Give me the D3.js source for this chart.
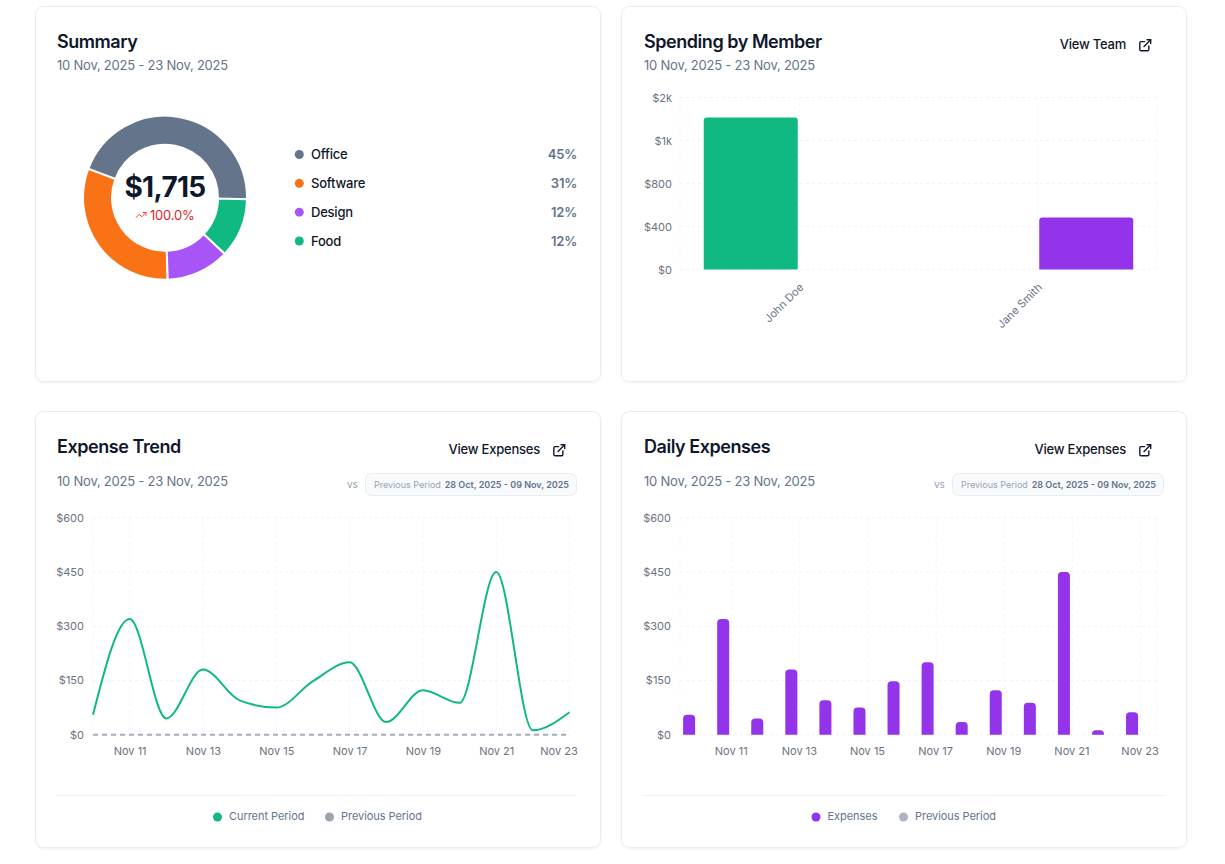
<!DOCTYPE html>
<html>
<head>
<meta charset="utf-8">
<script src="https://cdn.jsdelivr.net/npm/d3@7"></script>
<style>
  body { margin: 0; background: #fff; font-family: Inter, sans-serif; }
  svg { display: block; }
  text { font-family: Inter, sans-serif; }
  text[font-size="13"] { letter-spacing: -0.22px; }
</style>
</head>
<body>
<div id="page"></div>
<script>
const dateRange = "10 Nov, 2025 - 23 Nov, 2025";
const prevRange = "28 Oct, 2025 - 09 Nov, 2025";

// summary donut
const categories = ["Office", "Software", "Design", "Food"];
const categoryValues = [764, 536, 214, 201];
const categoryPercents = ["45%", "31%", "12%", "12%"];
const categoryColors = ["#64748b", "#f97316", "#a855f7", "#10b981"];
const summaryTotal = "$1,715";
const summaryChange = "100.0%";

// spending by member
const members = ["John Doe", "Jane Smith"];
const memberSpend = [1415, 484];
const memberColors = ["#10b981", "#9333ea"];
const memberTicks = [0, 400, 800, 1200, 1600];

// daily series
const days = ["Nov 10", "Nov 11", "Nov 12", "Nov 13", "Nov 14", "Nov 15", "Nov 16",
              "Nov 17", "Nov 18", "Nov 19", "Nov 20", "Nov 21", "Nov 22", "Nov 23"];
const dayTicks = ["Nov 11", "Nov 13", "Nov 15", "Nov 17", "Nov 19", "Nov 21", "Nov 23"];
const currentPeriod = [55, 320, 45, 180, 95, 75, 148, 200, 35, 123, 88, 450, 12, 62];
const previousPeriod = [0, 0, 0, 0, 0, 0, 0, 0, 0, 0, 0, 0, 0, 0];
const dailyTicks = [0, 150, 300, 450, 600];

const dark = "#0f172a", muted = "#64748b", axisGray = "#6b7280", gridColor = "#f1f5f9";

const externalIcon = ["M15 3h6v6", "M10 14 21 3", "M18 13v6a2 2 0 0 1-2 2H5a2 2 0 0 1-2-2V8a2 2 0 0 1 2-2h6"];
const trendIcon = ["M22 7 13.5 15.5 8.5 10.5 2 17", "M16 7h6v6"];

const svg = d3.select("#page").append("svg")
    .attr("width", 1225)
    .attr("height", 864)
    .attr("viewBox", "0 0 1225 864");

const defs = svg.append("defs");
const shadow = defs.append("filter").attr("id", "cardShadow")
    .attr("x", "-5%").attr("y", "-5%").attr("width", "110%").attr("height", "110%");
shadow.append("feDropShadow").attr("dx", 0).attr("dy", 1).attr("stdDeviation", 1.2)
    .attr("flood-color", "#0f172a").attr("flood-opacity", 0.06);

function addText(parent, x, y, str, size, weight, color, anchor) {
    return parent.append("text")
        .attr("x", x).attr("y", y)
        .attr("font-size", size)
        .attr("font-weight", weight)
        .attr("fill", color)
        .attr("text-anchor", anchor || "start")
        .text(str);
}

function addIcon(parent, paths, x, y, size, color, width) {
    let g = parent.append("g")
        .attr("transform", `translate(${x},${y}) scale(${size / 24})`)
        .attr("fill", "none")
        .attr("stroke", color)
        .attr("stroke-width", width)
        .attr("stroke-linecap", "round")
        .attr("stroke-linejoin", "round");
    paths.forEach(p => g.append("path").attr("d", p));
}

function card(x, y, w, h, title) {
    svg.append("rect")
        .attr("x", x - 0.5).attr("y", y - 0.5)
        .attr("width", w + 1).attr("height", h + 1)
        .attr("rx", 8)
        .attr("fill", "#fff")
        .attr("stroke", "#e8edf3")
        .attr("filter", "url(#cardShadow)");
    addText(svg, x + 21 + (x > 600 ? 1 : 0), y + 41, title, 18, 600, dark)
        .attr("letter-spacing", "-0.45px");
}

function cardLink(right, y, label) {
    addText(svg, right - 60, y + 5, label, 13, 500, dark, "end");
    addIcon(svg, externalIcon, right - 48, y - 6, 14.5, dark, 2.3);
}

function comparePill(x, y) {
    addText(svg, x - 18, y + 15, "vs", 10, 400, "#94a3b8");
    svg.append("rect")
        .attr("x", x + 0.5).attr("y", y + 0.5)
        .attr("width", 211).attr("height", 22)
        .attr("rx", 6)
        .attr("fill", "#f8fafc")
        .attr("stroke", "#e8edf3");
    addText(svg, x + 9, y + 15, "Previous Period", 9, 400, "#94a3b8");
    addText(svg, x + 204, y + 15, prevRange, 9, 600, muted, "end");
}

function legendRow(items, y) {
    items.forEach(d => {
        svg.append("circle").attr("cx", d.x).attr("cy", y).attr("r", 4.5).attr("fill", d.color);
        addText(svg, d.x + 11.5, y + 3, d.label, 11, 400, muted).attr("letter-spacing", "-0.05px");
    });
}

function grid(g, xs, ys, x0, x1, y0, y1) {
    g.selectAll(".gh").data(ys).join("line")
        .attr("class", "gh")
        .attr("x1", x0).attr("x2", x1)
        .attr("y1", d => d).attr("y2", d => d);
    g.selectAll(".gv").data(xs).join("line")
        .attr("class", "gv")
        .attr("y1", y0).attr("y2", y1)
        .attr("x1", d => d).attr("x2", d => d);
    g.selectAll("line")
        .attr("stroke", gridColor)
        .attr("stroke-dasharray", "3 3");
}

function styleAxis(axis, size) {
    axis.select(".domain").remove();
    axis.selectAll("text")
        .attr("fill", axisGray)
        .attr("font-size", size || 11);
}

function topRoundedBar(x, y, w, h, r) {
    if (h <= 0) return "";
    let rr = Math.min(r, h);
    return `M${x},${y + h}V${y + rr}Q${x},${y} ${x + rr},${y}H${x + w - rr}Q${x + w},${y} ${x + w},${y + rr}V${y + h}Z`;
}

// ---- Summary ----
card(36, 7, 564, 374, "Summary");
addText(svg, 57, 70, dateRange, 13, 400, muted);

let startA = Math.PI / 2 + Math.PI / 180;
let pie = d3.pie().sort(null).startAngle(startA).endAngle(startA - 2 * Math.PI);
let arc = d3.arc().innerRadius(53).outerRadius(82);
let donut = svg.append("g").attr("transform", "translate(165,197.7)");
donut.selectAll("path").data(pie(categoryValues)).join("path")
    .attr("d", arc)
    .attr("fill", (d, i) => categoryColors[i])
    .attr("stroke", "#fff")
    .attr("stroke-width", 2);

addText(svg, 165, 197, summaryTotal, 28, 700, dark, "middle").attr("letter-spacing", "-0.7px");
addIcon(svg, trendIcon, 135, 209, 12, "#ef4444", 2);
addText(svg, 150, 220, summaryChange, 13, 400, "#dc2626");

let legendY = d3.scalePoint().domain(categories).range([154.5, 241]);
categories.forEach((c, i) => {
    svg.append("circle").attr("cx", 299.3).attr("cy", legendY(c)).attr("r", 4.5).attr("fill", categoryColors[i]);
    addText(svg, 311, legendY(c) + 4.5, c, 13, 500, dark);
    addText(svg, 577, legendY(c) + 4.5, categoryPercents[i], 13, 600, muted, "end");
});

// ---- Spending by Member ----
card(622, 7, 564, 374, "Spending by Member");
addText(svg, 644, 70, dateRange, 13, 400, muted);
cardLink(1186, 44, "View Team");

let memberX = d3.scaleBand().domain(members).range([680, 1157]);
let memberInner = d3.scaleBand().domain(members).range([0, memberX.bandwidth()])
    .paddingInner(3 / 97).paddingOuter(0.245);
let memberY = d3.scaleLinear().domain([0, 1600]).range([269.5, 97.5]);

let memberGrid = svg.append("g");
grid(memberGrid,
    [680, memberX(members[0]) + memberX.bandwidth() / 2, memberX(members[1]) + memberX.bandwidth() / 2, 1157],
    memberTicks.map(d => memberY(d)), 680, 1157, 97.5, 269.5);

let memberAxis = svg.append("g")
    .attr("transform", "translate(680,0)")
    .call(d3.axisLeft(memberY).tickValues(memberTicks).tickSize(0).tickPadding(8)
        .tickFormat(d => d < 1000 ? "$" + d : "$" + Math.round(d / 1000) + "k"));
styleAxis(memberAxis);

members.forEach((m, i) => {
    members.forEach((s, j) => {
        let v = i === j ? memberSpend[i] : 0;
        svg.append("path")
            .attr("d", topRoundedBar(memberX(m) + memberInner(s), memberY(v), memberInner.bandwidth(), memberY(0) - memberY(v), 3))
            .attr("fill", memberColors[j]);
    });
    let lx = memberX(m) + memberX.bandwidth() / 2 + 5;
    addText(svg, lx, 288, m, 11, 400, muted, "end")
        .attr("transform", `rotate(-45,${lx},288)`);
});

// ---- Expense Trend ----
card(36, 412, 564, 435, "Expense Trend");
addText(svg, 57, 486, dateRange, 13, 400, muted);
cardLink(600, 449, "View Expenses");
comparePill(365, 473);

let lineX = d3.scalePoint().domain(days).range([93, 569.5]);
let dailyY = d3.scaleLinear().domain([0, 600]).range([734.7, 517.7]);

let lineGrid = svg.append("g");
grid(lineGrid, [days[0]].concat(dayTicks).map(d => lineX(d)), dailyTicks.map(d => dailyY(d)), 93, 569.5, 517.7, 734.7);

let lineYAxis = svg.append("g")
    .attr("transform", "translate(93,0)")
    .call(d3.axisLeft(dailyY).tickValues(dailyTicks).tickSize(0).tickPadding(9).tickFormat(d => "$" + d));
styleAxis(lineYAxis);

let lineXAxis = svg.append("g")
    .attr("transform", "translate(0,735)")
    .call(d3.axisBottom(lineX).tickValues(dayTicks).tickSize(0).tickPadding(12));
styleAxis(lineXAxis);
// last label is pushed back inside the card
lineXAxis.selectAll("text").filter(d => d === "Nov 23").attr("dx", -11);

let trendLine = d3.line().x((d, i) => lineX(days[i])).y(d => dailyY(d)).curve(d3.curveMonotoneX);
svg.append("path").datum(previousPeriod)
    .attr("d", trendLine)
    .attr("fill", "none")
    .attr("stroke", "#a3adbc")
    .attr("stroke-width", 2)
    .attr("stroke-dasharray", "5 4");
svg.append("path").datum(currentPeriod)
    .attr("d", trendLine)
    .attr("fill", "none")
    .attr("stroke", "#10b981")
    .attr("stroke-width", 2);

svg.append("line").attr("x1", 57).attr("x2", 577).attr("y1", 795.5).attr("y2", 795.5).attr("stroke", "#eef1f5");
legendRow([
    { x: 217.5, color: "#10b981", label: "Current Period" },
    { x: 329.5, color: "#9ca3af", label: "Previous Period" }
], 817);

// ---- Daily Expenses ----
card(622, 412, 564, 435, "Daily Expenses");
addText(svg, 644, 486, dateRange, 13, 400, muted);
cardLink(1186, 449, "View Expenses");
comparePill(952, 473);

let barX = d3.scaleBand().domain(days).range([680.6, 1157.6]);
let barInner = d3.scaleBand().domain(["current", "previous"]).range([0, barX.bandwidth()])
    .paddingInner(5 / 17).paddingOuter(2.5 / 17);
let barCenter = d => barX(d) + barX.bandwidth() / 2;

let barGrid = svg.append("g");
grid(barGrid, [680].concat(dayTicks.map(barCenter), [1157]), dailyTicks.map(d => dailyY(d)), 680, 1157, 517.7, 734.7);

let barYAxis = svg.append("g")
    .attr("transform", "translate(680,0)")
    .call(d3.axisLeft(dailyY).tickValues(dailyTicks).tickSize(0).tickPadding(9).tickFormat(d => "$" + d));
styleAxis(barYAxis);

let barXAxis = svg.append("g")
    .attr("transform", "translate(0,735)")
    .call(d3.axisBottom(barX).tickValues(dayTicks).tickSize(0).tickPadding(12));
styleAxis(barXAxis);
barXAxis.selectAll("text").attr("dx", -0.5);

svg.append("g").selectAll("path").data(currentPeriod).join("path")
    .attr("d", (d, i) => topRoundedBar(barX(days[i]) + barInner("current"), dailyY(d), barInner.bandwidth(), dailyY(0) - dailyY(d), 4))
    .attr("fill", "#9333ea");

svg.append("line").attr("x1", 644).attr("x2", 1164).attr("y1", 795.5).attr("y2", 795.5).attr("stroke", "#eef1f5");
legendRow([
    { x: 816, color: "#9333ea", label: "Expenses" },
    { x: 903.5, color: "#adb5c3", label: "Previous Period" }
], 817);
</script>
</body>
</html>
